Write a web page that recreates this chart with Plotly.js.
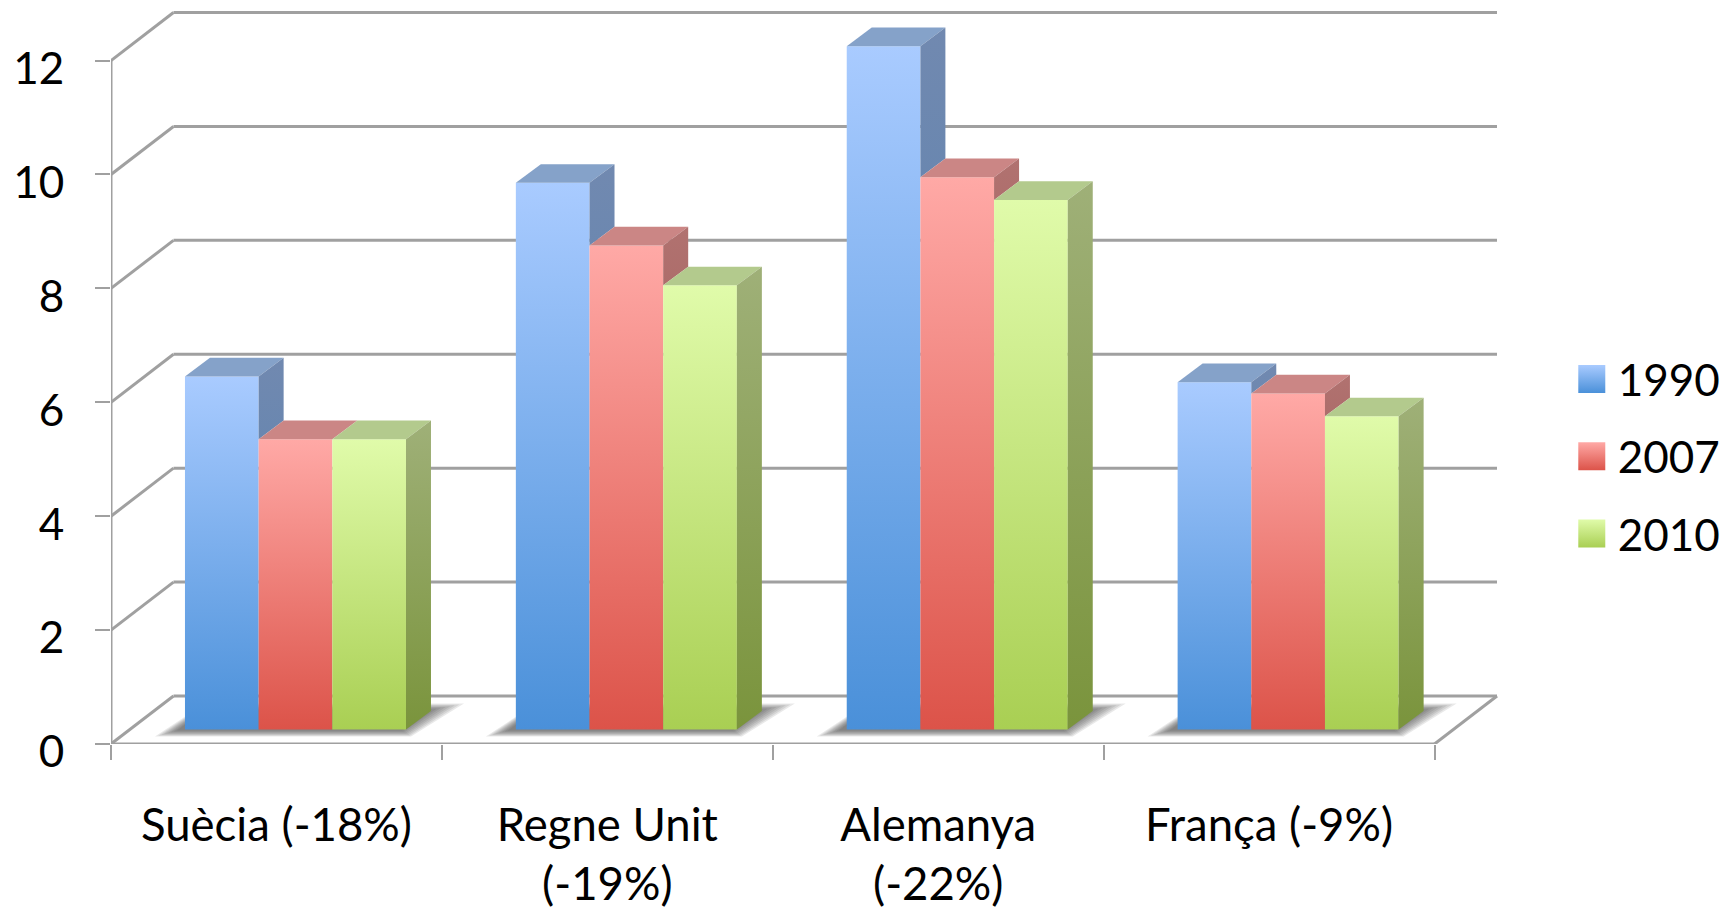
<!DOCTYPE html>
<html><head><meta charset="utf-8">
<script src="https://cdn.plot.ly/plotly-3.0.1.min.js"></script>
<style>html,body{margin:0;padding:0;background:#fff}#chart{width:1733px;height:911px}</style>
</head><body><div id="chart"></div>
<script>
const categories = ["Suècia (-18%)", "Regne Unit<br>(-19%)", "Alemanya<br>(-22%)", "França (-9%)"];
const seriesNames = ["1990", "2007", "2010"];
const v1990 = [6.2, 9.6, 12.0, 6.1];
const v2007 = [5.1, 8.5, 9.7, 5.9];
const v2010 = [5.1, 7.8, 9.3, 5.5];
const yTicks = [0, 2, 4, 6, 8, 10, 12];

const series = [v1990, v2007, v2010];
const frontCols = [["#a9cbff", "#4a90d9"], ["#ffa9a6", "#dc5349"], ["#e0fbaa", "#a9cf53"]];
const sideCols = [["#7189b0", "#4f7fae"], ["#b17270", "#8f4a44"], ["#9fb078", "#7a943c"]];
const topCols = ["#85a2c9", "#cb8685", "#b3ca8d"];
const gridCol = "#a0a0a0";

// scale: 331 px per category, 56.93 px per value unit
const pxX = 331, pxY = 56.93;
const wallDX = 62.5 / pxX, wallDY = 48 / pxY;
const barStart = 74 / pxX, barW = 73.7 / pxX, barBase = 14.4 / pxY;
const depthX = 25 / pxX, depthY = 18.7 / pxY;
const n = categories.length;

const traces = [];
series.forEach((vals, j) => {
  traces.push({
    type: "bar", name: seriesNames[j], legendgroup: seriesNames[j],
    x: vals.map((_, i) => i + barStart + barW * (j + 0.5)),
    y: vals, base: vals.map(() => barBase), width: barW,
    marker: { color: frontCols[j][1], line: { width: 0 } },
    hoverinfo: "y+name"
  });
});
series.forEach((vals, j) => {
  vals.forEach((v, i) => {
    const xl = i + barStart + barW * j, xr = xl + barW, t = barBase + v;
    traces.push({
      type: "scatter", mode: "none", fill: "toself", fillcolor: topCols[j],
      x: [xl, xr, xr + depthX, xl + depthX, xl],
      y: [t, t, t + depthY, t + depthY, t],
      showlegend: false, hoverinfo: "skip"
    });
    const low = j < series.length - 1 ? barBase + series[j + 1][i] : barBase;
    if (t > low) {
      traces.push({
        type: "scatter", mode: "none", fill: "toself",
        fillgradient: { type: "vertical", start: barBase, stop: t + depthY,
          colorscale: [[0, sideCols[j][1]], [1, sideCols[j][0]]] },
        x: [xr, xr + depthX, xr + depthX, xr, xr],
        y: [t, t + depthY, low + depthY, low, t],
        showlegend: false, hoverinfo: "skip"
      });
    }
  });
});

const shapes = [];
// soft floor shadows: nested translucent polygons, outer to inner
const shadowLayers = 8;
for (let i = 0; i < n; i++) {
  const x0 = i + barStart, x1 = x0 + barW * 3, by = barBase;
  const ux = 1 / pxX, uy = 1 / pxY;
  const outer = [[x0 - 30 * ux, by - 7 * uy], [x1 + 5 * ux, by - 7 * uy], [x1 + 58 * ux, by + 26 * uy], [x0 + 20 * ux, by + 26 * uy]];
  const inner = [[x0 - 8 * ux, by - 1 * uy], [x1 - 4 * ux, by - 1 * uy], [x1 + 26 * ux, by + 20 * uy], [x0 + 20 * ux, by + 20 * uy]];
  for (let k = 0; k < shadowLayers; k++) {
    const f = k / (shadowLayers - 1);
    const pts = outer.map((p, m) => [p[0] + (inner[m][0] - p[0]) * f, p[1] + (inner[m][1] - p[1]) * f]);
    shapes.push({
      type: "path", layer: "below", xref: "x", yref: "y",
      path: "M" + pts.map(p => p[0] + "," + p[1]).join("L") + "Z",
      fillcolor: "#333333", opacity: 0.11, line: { width: 0 }
    });
  }
}
const seg = (x0, y0, x1, y1) => ({ type: "line", layer: "below", xref: "x", yref: "y", x0, y0, x1, y1, line: { color: gridCol, width: 3 } });
yTicks.forEach(v => {
  shapes.push(seg(wallDX, v + wallDY, n + wallDX, v + wallDY));
  shapes.push(seg(0, v, wallDX, v + wallDY));
});
shapes.push(seg(0, 0, 0, yTicks[yTicks.length - 1]));
shapes.push(seg(0, 0, n, 0));
shapes.push(seg(n, 0, n + wallDX, wallDY));

const layout = {
  width: 1733, height: 911, paper_bgcolor: "#fff", plot_bgcolor: "rgba(0,0,0,0)",
  margin: { l: 110.5, r: 233, t: 10, b: 167.3, pad: 0, autoexpand: false },
  barmode: "overlay", font: { family: "Lato, Carlito, sans-serif", size: 44, color: "#000" },
  xaxis: {
    range: [0, 1389.5 / pxX], showgrid: false, zeroline: false, showline: false, fixedrange: true,
    tickmode: "array", tickvals: categories.map((_, i) => i + 0.5), ticktext: categories,
    tickfont: { size: 45.5 }, ticks: "", ticklabelstandoff: 50, tickangle: 0,
    minor: { tickmode: "array", tickvals: categories.concat([""]).map((_, i) => i), ticks: "outside", ticklen: 15, tickwidth: 2, tickcolor: gridCol, showgrid: false }
  },
  yaxis: {
    range: [0, 733.7 / pxY], showgrid: false, zeroline: false, showline: false, fixedrange: true,
    tickmode: "array", tickvals: yTicks, ticktext: yTicks.map(String),
    tickfont: { size: 44 }, ticks: "outside", ticklen: 15, tickwidth: 2, tickcolor: gridCol,
    ticklabelstandoff: 22, ticklabelshift: 8
  },
  legend: { x: 1.056, xanchor: "left", y: 0.545, yanchor: "top", tracegroupgap: 17, bgcolor: "rgba(0,0,0,0)", itemclick: false, itemdoubleclick: false },
  shapes
};

Plotly.newPlot("chart", traces, layout, { displayModeBar: false, responsive: false }).then(gd => {
  const svg = gd.querySelector("svg.main-svg");
  const NS = "http://www.w3.org/2000/svg";
  const defs = document.createElementNS(NS, "defs");
  frontCols.forEach((c, j) => {
    const g = document.createElementNS(NS, "linearGradient");
    g.id = "frontGrad" + j;
    g.setAttribute("x1", "0"); g.setAttribute("y1", "0"); g.setAttribute("x2", "0"); g.setAttribute("y2", "1");
    [[0, c[0]], [1, c[1]]].forEach(s => {
      const st = document.createElementNS(NS, "stop");
      st.setAttribute("offset", s[0]); st.setAttribute("stop-color", s[1]);
      g.appendChild(st);
    });
    defs.appendChild(g);
  });
  svg.insertBefore(defs, svg.firstChild);

  gd.querySelectorAll(".barlayer .trace.bars").forEach((t, j) => {
    t.querySelectorAll(".point path").forEach(p => { p.style.fill = "url(#frontGrad" + j + ")"; });
  });
  gd.querySelectorAll(".legend .traces").forEach((t, j) => {
    t.querySelectorAll(".legendpoints path").forEach(p => {
      p.style.fill = "url(#frontGrad" + j + ")";
      p.style.stroke = "none";
      p.setAttribute("d", "M7.5,14H-19.5V-14H7.5Z");
    });
  });
});
</script></body></html>
